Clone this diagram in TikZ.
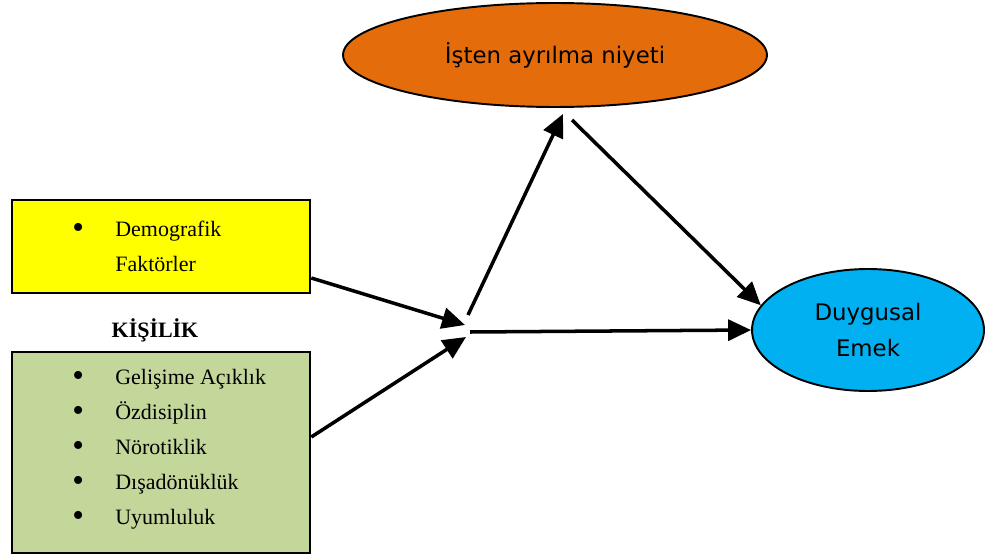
\documentclass[tikz,border=0pt]{standalone}
\usepackage{fontspec}
\setmainfont{Liberation Serif}
\newfontfamily\ovalfont{DejaVu Sans}
\usetikzlibrary{positioning,shapes.geometric,arrows.meta}
\definecolor{BoxYellow}{HTML}{FFFF00}
\definecolor{BoxGreen}{HTML}{C4D79B}
\definecolor{OvalOrange}{HTML}{E46C0A}
\definecolor{OvalBlue}{HTML}{00B0F0}
\newcommand{\itm}{\makebox[0.86cm][l]{\raisebox{-0.12em}{\fontsize{19}{19}\selectfont\textbullet}}}

\begin{document}
\begin{tikzpicture}[x=0.02cm,y=-0.02cm,
    box/.style={draw=black,line width=1.5pt,minimum width=5.96cm,inner sep=0pt},
    listtext/.style={anchor=west,align=left,inner sep=0pt,
      font=\fontsize{12.5}{19.9}\selectfont},
    oval/.style={ellipse,draw=black,line width=1.1pt,inner sep=0pt,align=center,
      font=\ovalfont\fontsize{13}{21}\selectfont},
    arrow/.style={-{Triangle[length=0.46cm,width=0.42cm]},line width=2pt}
  ]
    \useasboundingbox (0,0) rectangle (986,557);
    % left boxes
    \node[box,fill=BoxYellow,minimum height=1.86cm] (demo) at (161,246.5) {};
    \node[listtext] (demolist) at (72,246) {\itm Demografik\\\hspace*{0.86cm}Faktörler};
    \node[font=\fontsize{12.5}{15}\selectfont\bfseries] (kisilik) at (155,330) {KİŞİLİK};
    \node[box,fill=BoxGreen,minimum height=4.02cm] (pers) at (161,452.5) {};
    \node[listtext] (perslist) at (72,449) {\itm Gelişime Açıklık\\\itm Özdisiplin\\
      \itm Nörotiklik\\\itm Dışadönüklük\\\itm Uyumluluk};
    % ellipses
    \node[oval,fill=OvalOrange,minimum width=8.48cm,minimum height=2.08cm] (intent) at (555,55)
      {İşten ayrılma niyeti};
    \node[oval,fill=OvalBlue,minimum width=4.64cm,minimum height=2.44cm] (labor) at (868,330)
      {Duygusal\\Emek};
    % junction points
    \coordinate (inA) at (465,325);
    \coordinate (inB) at (466,337);
    \coordinate (outA) at (468,315);
    \coordinate (outB) at (470,332);
    \coordinate (outC) at (572,120);
    \draw[arrow] ([yshift=-0.63cm]demo.east) -- (inA);
    \draw[arrow] ([yshift=0.31cm]pers.east) -- (inB);
    \draw[arrow] (outA) -- ([xshift=0.16cm,yshift=-0.12cm]intent.south);
    \draw[arrow] (outB) -- (labor.west);
    \draw[arrow] (outC) -- (labor.167);
  \end{tikzpicture}
\end{document}
